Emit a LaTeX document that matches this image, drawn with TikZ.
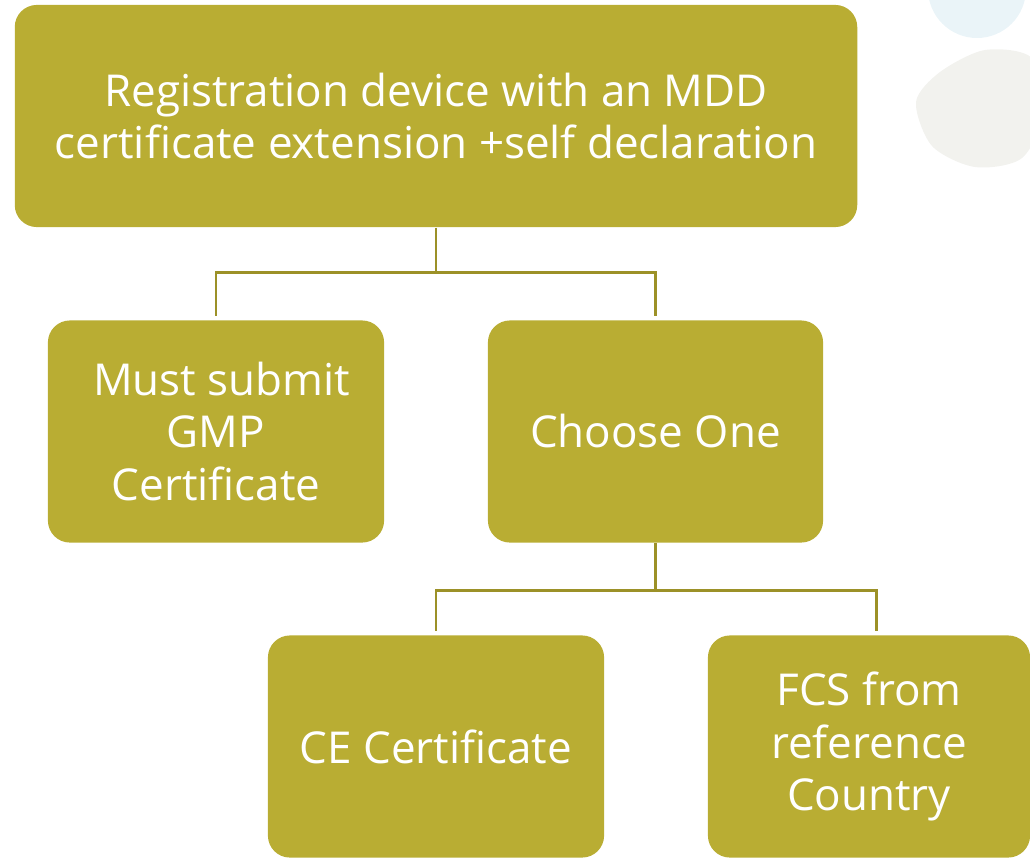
\documentclass[tikz,border=0pt]{standalone}
\usepackage{fontspec}
\setmainfont{Open Sans}
\definecolor{olivebox}{HTML}{B9AD33}
\definecolor{oliveline}{HTML}{9C9128}
\definecolor{paleblue}{HTML}{EAF4F8}
\definecolor{palegrey}{HTML}{F2F2EE}
\begin{document}
\begin{tikzpicture}[x=0.01cm, y=-0.01cm,
  box/.style={draw=none, rectangle, rounded corners=0.22cm, fill=olivebox, text=white,
    align=center, inner sep=0pt, minimum width=3.36cm, minimum height=2.22cm,
    font=\fontsize{12.5}{15}\selectfont},
  link/.style={draw=oliveline, line width=0.85pt}]
  \useasboundingbox (0,0) rectangle (1030,857);

  % soft shapes in the corner
  \fill[paleblue] (977,-11) circle (49);
  \fill[palegrey] plot[smooth cycle] coordinates {(940,72) (985,50) (1032,58) (1045,110)
    (1022,158) (975,167) (932,146) (916,102)};

  \node (reg) [box, minimum width=8.42cm] at (436,116)
    {Registration device with an MDD\\certificate extension +self declaration};
  \node (gmp) [box] at (216,431.5) {\ Must submit\\GMP\\Certificate};
  \node (one) [box, minimum width=3.35cm] at (655.5,431.5) {Choose One};
  \node (ce) [box] at (436,746.5) {CE Certificate};
  \node (fcs) [box, minimum width=3.22cm] at (869,746.5) {FCS from\\reference\\Country};

  \draw[link, shorten >=1pt] (reg.south) -- ++(0,45) -| (gmp.north);
  \draw[link, shorten >=1pt] (reg.south) -- ++(0,45) -| (one.north);
  \draw[link, shorten >=1pt] (one.south) -- ++(0,47) -| (ce.north);
  \draw[link, shorten >=1pt] (one.south) -- ++(0,47) -| ([xshift=0.07cm]fcs.north);
\end{tikzpicture}
\end{document}
